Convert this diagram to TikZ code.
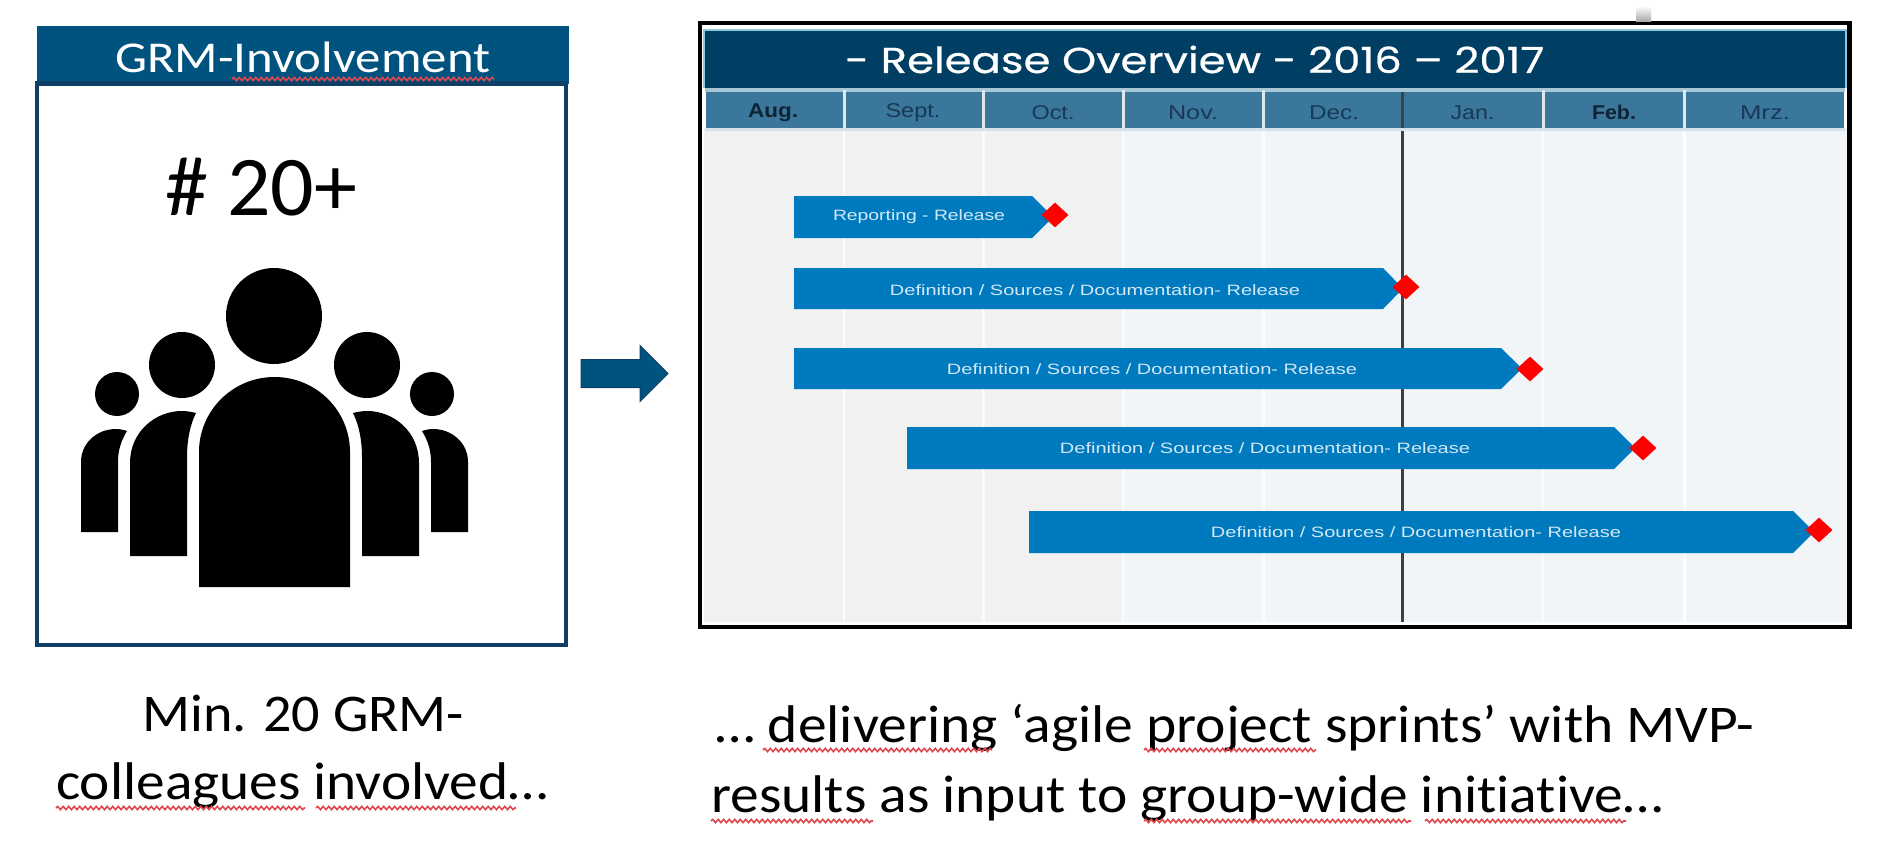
\documentclass[tikz,border=0pt]{standalone}
\usepackage{fontspec}
\usepackage{graphicx}
\setmainfont[Ligatures=NoCommon]{Carlito}
\newfontfamily\widefont[FakeBold=0.5]{Poppins}
\newfontfamily\chartfont{Liberation Sans}
\usetikzlibrary{shapes.geometric,shapes.arrows,decorations.pathmorphing}
\definecolor{headblue}{HTML}{00527F}
\definecolor{boxnavy}{HTML}{0F3F66}
\definecolor{chartnavy}{HTML}{003E63}
\definecolor{monthblue}{HTML}{3B779B}
\definecolor{edgecyan}{HTML}{8CC6DA}
\definecolor{monthline}{HTML}{A9C6D6}
\definecolor{pastgrey}{HTML}{F1F1F1}
\definecolor{futuregrey}{HTML}{F1F5F8}
\definecolor{barblue}{HTML}{007ABF}
\definecolor{bartext}{HTML}{D2E8F4}
\definecolor{monthtext}{HTML}{173A56}
\definecolor{monthbold}{HTML}{0E2435}
\definecolor{spellred}{HTML}{E0484F}
\tikzset{
  x=1pt,y=-1pt,
  bigtext/.style={anchor=base west,inner sep=0,font=\fontsize{53}{53}\selectfont,text=black},
  spell/.style={draw=spellred,line width=1.6pt,decorate,decoration={snake,segment length=5.5pt,amplitude=1.6pt}},
  milestone/.style={diamond,fill=red,draw=none,inner sep=0,minimum width=27pt,minimum height=25pt},
  barlabel/.style={inner sep=0,text=bartext,font=\chartfont\fontsize{15}{15}\selectfont},
  monthlabel/.style={inner sep=0,text=monthtext,font=\chartfont\fontsize{20}{20}\selectfont},
  monthstrong/.style={monthlabel,text=monthbold,font=\chartfont\bfseries\fontsize{20}{20}\selectfont},
  person/.style={fill=black,draw=none},
  gridline/.style={draw=white,opacity=0.75,line width=2.5pt},
  monthgap/.style={draw=white!60!monthline,line width=3pt},
}
\newcommand{\ganttbar}[6]{%
  \fill[barblue] (#2,#3) -- (#5,#3) -- (#6,{(#3+#4)/2}) -- (#5,#4) -- (#2,#4) -- cycle;}
\newcommand{\fitw}[2]{\resizebox{#1pt}{\height}{#2}}
\begin{document}
\begin{tikzpicture}
\useasboundingbox (0,0) rectangle (1880,848);
\fill[white] (0,0) rectangle (1880,848);

% left panel
\draw[boxnavy,line width=3.5pt,fill=white] (37,84) rectangle (566,645);
\fill[headblue] (37,26) rectangle (569,84);
\fill[boxnavy] (35,81) rectangle (568,85);
\node[inner sep=0,anchor=base west,text=white,font=\fontsize{44}{44}\selectfont] (headtxt) at (115,73) {\fitw{375}{GRM-Involvement}};
\draw[spell] (232,79) -- (494,79);
\node[inner sep=0,anchor=base west,font=\fontsize{85}{85}\selectfont] (count) at (165,215) {\fitw{192}{\# 20+}};

% people
\fill[person] (274,316) circle[radius=48];
\fill[person] (182,365) circle[radius=33];
\fill[person] (367,365) circle[radius=33];
\fill[person] (117,394) circle[radius=22];
\fill[person] (432,394) circle[radius=22];
\fill[person] (199,587) -- (199,452) arc[start angle=180,end angle=0,x radius=75.5,y radius=-75] -- (350,587) -- cycle;
\fill[person] (130,556) -- (130,463) .. controls (130,432) and (155,411) .. (182,411) .. controls (187,411) and (192,412) .. (196,413) .. controls (190,425) and (187,440) .. (187,458) -- (187,556) -- cycle;
\fill[person] (419,556) -- (419,463) .. controls (419,432) and (394,411) .. (367,411) .. controls (362,411) and (357,412) .. (353,413) .. controls (359,425) and (362,440) .. (362,458) -- (362,556) -- cycle;
\fill[person] (81,532) -- (81,462) .. controls (81,443) and (97,429) .. (116,429) .. controls (120,429) and (124,430) .. (127,431) .. controls (121,441) and (118,450) .. (118,462) -- (118,532) -- cycle;
\fill[person] (468,532) -- (468,462) .. controls (468,443) and (452,429) .. (433,429) .. controls (429,429) and (425,430) .. (422,431) .. controls (428,441) and (431,450) .. (431,462) -- (431,532) -- cycle;

% block arrow
\node[single arrow,draw=boxnavy,fill=headblue,line width=1pt,minimum height=87pt,single arrow head extend=14pt,inner sep=13.5pt,outer sep=0,text height=0pt,text depth=0pt,text width=0pt] (flow) at (617.5,373.5) {};

% chart backgrounds
\fill[pastgrey] (704,128) rectangle (1123,622);
\fill[futuregrey] (1123,128) rectangle (1847,622);
\fill[chartnavy] (704,30) rectangle (1846,88);
\draw[edgecyan,line width=1.5pt] (704,88) -- (704,30) -- (1846,30) -- (1846,88);
\fill[monthline] (705,88) rectangle (1845,92);
\fill[monthblue] (706,92) rectangle (1844,128);
\foreach \gx in {844,983.5,1123,1263.5,1543,1684.5}{
  \draw[monthgap] (\gx,90) -- (\gx,128);
  \draw[gridline] (\gx,128) -- (\gx,622);
}
\draw[black!75,line width=3pt] (1402.5,92) -- (1402.5,622);
\fill[white!50!monthline] (705,128) rectangle (1845,131);

% chart title
\node[inner sep=0,anchor=base west,text=white,font=\widefont\fontsize{36}{36}\selectfont] (title) at (845,73) {\fitw{699}{- Release Overview - 2016 – 2017}};

% months
\node[monthstrong] (maug) at (773,112.5) {\fitw{50}{Aug.}};
\node[monthlabel] (msep) at (913,112.5) {\fitw{55}{Sept.}};
\node[monthlabel] (moct) at (1053,112.5) {\fitw{43}{Oct.}};
\node[monthlabel] (mnov) at (1193,112.5) {\fitw{50}{Nov.}};
\node[monthlabel] (mdec) at (1334,112.5) {\fitw{50}{Dec.}};
\node[monthlabel] (mjan) at (1472.5,112.5) {\fitw{44}{Jan.}};
\node[monthstrong] (mfeb) at (1614,112.5) {\fitw{44}{Feb.}};
\node[monthlabel] (mmrz) at (1765,112.5) {\fitw{50}{Mrz.}};

% bars
\ganttbar{b1}{794}{196}{238}{1032}{1053}
\ganttbar{b2}{794}{268}{309}{1383}{1403}
\ganttbar{b3}{794}{348}{389}{1501}{1522}
\ganttbar{b4}{907}{427}{469}{1614}{1635}
\ganttbar{b5}{1029}{511}{553}{1793}{1814}
\node[barlabel] (t1) at (919,217) {\fitw{172}{Reporting - Release}};
\node[barlabel] (t2) at (1095,290) {\fitw{410}{Definition / Sources / Documentation- Release}};
\node[barlabel] (t3) at (1152,369) {\fitw{410}{Definition / Sources / Documentation- Release}};
\node[barlabel] (t4) at (1265,448) {\fitw{410}{Definition / Sources / Documentation- Release}};
\node[barlabel] (t5) at (1416,532) {\fitw{410}{Definition / Sources / Documentation- Release}};
\node[milestone] (d1) at (1055,215) {};
\node[milestone] (d2) at (1406,287) {};
\node[milestone] (d3) at (1530,369) {};
\node[milestone] (d4) at (1643,448) {};
\node[milestone] (d5) at (1819,530) {};

% chart frame
\draw[black,line width=4.5pt] (700,23) rectangle (1849.5,627);
\shade[top color=white,bottom color=black!35] (1636,6) rectangle (1651,22);

% captions
\node[bigtext] (cap1a) at (142,731) {\fitw{322}{Min. 20 GRM-}};
\node[bigtext] (cap1b) at (56,799) {\fitw{492}{colleagues involved…}};
\draw[spell] (56,808) -- (305,808);
\draw[spell] (316,808) -- (516,808);
\node[bigtext] (cap2a) at (715,742) {\fitw{1039}{… delivering ‘agile project sprints’ with MVP-}};
\node[bigtext] (cap2b) at (711,812) {\fitw{952}{results as input to group-wide initiative…}};
\draw[spell] (763,750) -- (992,750);
\draw[spell] (1144,750) -- (1316,750);
\draw[spell] (711,821) -- (873,821);
\draw[spell] (1144,821) -- (1411,821);
\draw[spell] (1425,821) -- (1626,821);
\end{tikzpicture}
\end{document}
